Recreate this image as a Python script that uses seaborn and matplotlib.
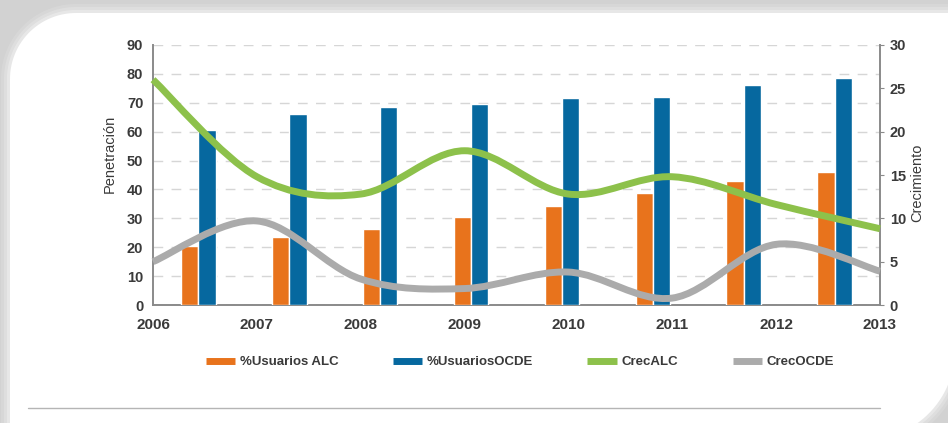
import numpy as np
import pandas as pd
import matplotlib
matplotlib.use("Agg")
import matplotlib.pyplot as plt
from matplotlib.path import Path
from matplotlib.patches import PathPatch, Polygon
from matplotlib.lines import Line2D
import seaborn as sns

# data
years = ["2006", "2007", "2008", "2009", "2010", "2011", "2012", "2013"]
usuarios_alc = [20.4, 23.4, 26.2, 30.4, 34.3, 38.9, 42.9, 46.2]
usuarios_ocde = [60.6, 66.1, 68.4, 69.6, 71.5, 71.9, 76.2, 78.5]
crec_alc = [26, 14.8, 12.8, 17.8, 12.8, 14.8, 11.6, 8.8]
crec_ocde = [5, 9.7, 3.0, 1.9, 3.8, 0.8, 7.0, 3.9]

bar_names = ["%Usuarios ALC", "%UsuariosOCDE"]
line_names = ["CrecALC", "CrecOCDE"]
colors = {"%Usuarios ALC": "#E8731C", "%UsuariosOCDE": "#06689F",
          "CrecALC": "#8DC14B", "CrecOCDE": "#ABABAB"}
text_col = "#3a3a3a"

sns.set_style("white")
plt.rcParams["font.family"] = ["Liberation Sans", "DejaVu Sans"]

fig = plt.figure(figsize=(9.48, 4.23), dpi=100)
fig.patch.set_facecolor("#d2d2d2")

# background card, drawn in pixel units
bg = fig.add_axes([0, 0, 1, 1])
bg.set_xlim(0, 948)
bg.set_ylim(423, 0)
bg.axis("off")


def card_outline(left, top, right, bottom, r_tl, r_br, grow=0):
    left, top, right, bottom = left - grow, top - grow, right + grow, bottom + grow
    r_tl, r_br = r_tl + grow, r_br + grow
    a1 = np.linspace(np.pi, 1.5 * np.pi, 30)
    tl = np.column_stack([left + r_tl + r_tl * np.cos(a1), top + r_tl + r_tl * np.sin(a1)])
    a2 = np.linspace(0, 0.5 * np.pi, 30)
    br = np.column_stack([right - r_br + r_br * np.cos(a2), bottom - r_br + r_br * np.sin(a2)])
    return np.vstack([tl, [[right, top]], br, [[left, bottom]]])


for grow, alpha in [(9, 0.12), (6, 0.18), (3, 0.3)]:
    bg.add_patch(Polygon(card_outline(10, 13, 955, 440, 66, 90, grow),
                         fc="white", ec="none", alpha=alpha))
bg.add_patch(Polygon(card_outline(10, 13, 955, 440, 66, 90), fc="white", ec="none"))
bg.plot([28, 880], [408, 408], color="#b5b5b5", lw=1)

rect = [153 / 948, 1 - 305 / 423, (880 - 153) / 948, (305 - 45) / 423]

# bars
ax = fig.add_axes(rect)
ax.patch.set_alpha(0)
df = pd.DataFrame({
    "Año": years * 2,
    "Serie": [bar_names[0]] * len(years) + [bar_names[1]] * len(years),
    "Valor": usuarios_alc + usuarios_ocde,
})
sns.barplot(data=df, x="Año", y="Valor", hue="Serie", hue_order=bar_names,
            palette=colors, width=0.38, gap=0, saturation=1, ax=ax, legend=False,
            zorder=3)
ax.set_xlim(-0.5, len(years) - 0.5)
ax.set_ylim(0, 90)
ax.set_yticks(range(0, 91, 10))
ax.set_xticks(np.arange(len(years) + 1) - 0.5)
ax.set_xticklabels([])
ax.set_xlabel("")
ax.set_ylabel("Penetración", fontsize=10.5, color=text_col)
ax.yaxis.set_label_coords(-0.05, 0.58)
ax.grid(axis="y", color="#d6d6d6", lw=1, ls=(0, (7, 6)), zorder=0)
ax.set_axisbelow(True)
for s in ["top", "right"]:
    ax.spines[s].set_visible(False)
for s in ["left", "bottom"]:
    ax.spines[s].set_color("#8a8a8a")
    ax.spines[s].set_linewidth(1.4)
ax.tick_params(axis="y", length=3, color="#8a8a8a", labelsize=10.5,
               labelcolor=text_col, pad=4)
ax.tick_params(axis="x", length=3, color="#8a8a8a")
for t in ax.get_yticklabels():
    t.set_fontweight("bold")

# smoothed growth lines on the right axis
ax2 = fig.add_axes(rect)
ax2.patch.set_alpha(0)
ax2.set_xlim(0, len(years) - 1)
ax2.set_ylim(0, 30)
ax2.set_yticks(range(0, 31, 5))
ax2.yaxis.tick_right()
ax2.yaxis.set_label_position("right")
ax2.set_ylabel("Crecimiento", fontsize=10.5, color=text_col)
ax2.yaxis.set_label_coords(1.042, 0.47)
ax2.set_xticks(range(len(years)))
ax2.set_xticklabels(years)
ax2.tick_params(axis="x", length=0, labelsize=11, labelcolor=text_col, pad=9)
ax2.tick_params(axis="y", length=3, color="#8a8a8a", labelsize=10.5,
                labelcolor=text_col, pad=4)
for t in ax2.get_xticklabels() + ax2.get_yticklabels():
    t.set_fontweight("bold")
for s in ["top", "left", "bottom"]:
    ax2.spines[s].set_visible(False)
ax2.spines["right"].set_color("#8a8a8a")
ax2.spines["right"].set_linewidth(1.4)


def smooth_path(ys):
    xs = np.arange(len(ys), dtype=float)
    p = np.column_stack([xs, np.asarray(ys, float)])
    pp = np.vstack([p[0], p, p[-1]])
    verts = [p[0]]
    codes = [Path.MOVETO]
    for i in range(len(p) - 1):
        p0, p1, p2, p3 = pp[i], pp[i + 1], pp[i + 2], pp[i + 3]
        verts += [p1 + (p2 - p0) / 6, p2 - (p3 - p1) / 6, p2]
        codes += [Path.CURVE4] * 3
    return Path(verts, codes)


for name, vals in [("CrecOCDE", crec_ocde), ("CrecALC", crec_alc)]:
    ax2.add_patch(PathPatch(smooth_path(vals), fill=False, ec=colors[name],
                            lw=5, capstyle="butt", zorder=4, clip_on=False))

handles = [Line2D([], [], color=colors[n], lw=5, solid_capstyle="butt")
           for n in bar_names + line_names]
fig.legend(handles, bar_names + line_names, loc="center",
           bbox_to_anchor=(520 / 948, 1 - 362 / 423), ncol=4, frameon=False,
           prop={"size": 9.5, "weight": "bold"}, labelcolor=text_col,
           handlelength=2.2, handletextpad=0.4, columnspacing=4.1)

fig.savefig("out.png", dpi=100)
